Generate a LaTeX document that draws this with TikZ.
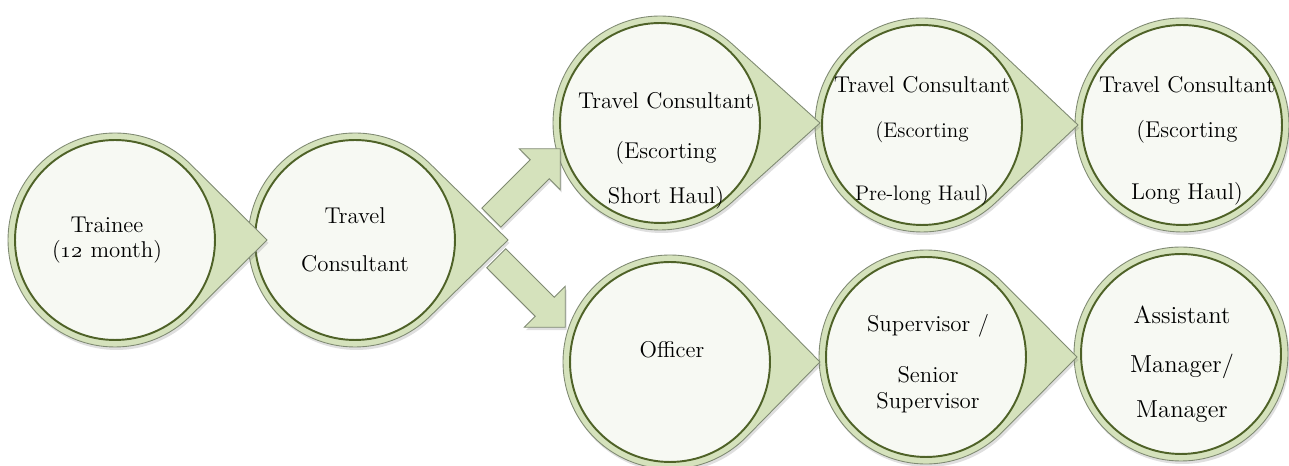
\documentclass[tikz,border=0pt]{standalone}
\usepackage{fix-cm}
\usetikzlibrary{shapes.arrows, shadows}

\definecolor{ringfill}{HTML}{D5E2BC}
\definecolor{ringline}{HTML}{7F8A72}
\definecolor{stagefill}{HTML}{F7F9F3}
\definecolor{stageline}{HTML}{4F6228}

\begin{document}
\begin{tikzpicture}[x=0.02cm, y=0.02cm,
  softshadow/.style={drop shadow={shadow xshift=0.03cm, shadow yshift=-0.06cm, opacity=0.25}},
  ring/.style={fill=ringfill, draw=ringline, line width=0.5pt, softshadow},
  stage/.style={circle, draw=stageline, line width=1.1pt, fill=stagefill, minimum size=4cm, inner sep=0pt},
  caption/.style={align=center, font=\fontsize{13}{15}\selectfont},
  blockarrow/.style={single arrow, single arrow tip angle=90, single arrow head extend=0.31cm,
    inner xsep=0pt, inner ysep=0.26cm, minimum height=1.95cm, anchor=tail,
    fill=ringfill, draw=ringline, line width=0.5pt, softshadow}]
  \useasboundingbox (0,0) rectangle (1289,466);
  \foreach \n/\cx/\cy/\tipd in {lh/1182/341/107, pl/922/341/156, sh/660/343/160,
      am/1181/112/107, sup/926/109/151, off/670/104/150, tc/355/226/153, trainee/115/226/152} {
    \pgfmathsetmacro\ang{acos(107/\tipd)}
    \draw[ring] (\cx+\tipd,\cy) -- ({\cx+107*cos(\ang)},{\cy+107*sin(\ang)})
      arc[start angle=\ang, end angle=360-\ang, radius=107] -- cycle;
    \node[stage] (\n) at (\cx,\cy) {};
  }
  \path (trainee) ++(-8,0) node[caption] (trainee-text) {Trainee\\[-0.8pt](\oldstylenums{12} month)}
    (tc) node[caption] (tc-text) {Travel\\[12.2pt]Consultant}
    (sh) ++(6,-28) node[caption] (sh-text) {Travel Consultant\\[13.3pt](Escorting\\[11pt]Short Haul)}
    (pl) ++(0,-16) node[caption] (pl-text) {Travel Consultant\\[10.5pt]{\fontsize{12}{14}\selectfont(Escorting}\\[20.7pt]{\fontsize{12}{14}\selectfont Pre-long Haul)}}
    (lh) ++(5,-16) node[caption] (lh-text) {Travel Consultant\\[10.5pt](Escorting\\[20.7pt]Long Haul)}
    (off) ++(2,12) node[caption] (off-text) {Officer}
    (sup) ++(2,-7) node[caption] (sup-text) {Supervisor /\\[13.9pt]Senior\\Supervisor}
    (am) ++(1,-10) node[caption, font=\fontsize{14}{16}\selectfont] (am-text) {Assistant\\[11.8pt]Manager/\\[9.5pt]Manager};
  \path (tc) ++(136,22) node[blockarrow, rotate=45] (tc-sh) {}
    (tc) ++(141,-18) node[blockarrow, rotate=-45] (tc-off) {};
\end{tikzpicture}
\end{document}
